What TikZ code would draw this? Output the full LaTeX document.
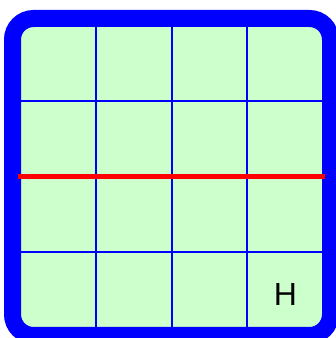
\documentclass[tikz,border=0pt]{standalone}
\usepackage{fontspec}
\setmainfont{Liberation Sans}
\definecolor{cellgreen}{RGB}{204,255,204}
\begin{document}
\begin{tikzpicture}[x=1pt, y=1pt,
	frame/.style={draw=blue, fill=cellgreen, line width=17pt,
				rounded corners=21pt},
	gridline/.style={draw=blue, line width=2pt},
	cut/.style={draw=red, line width=5pt},
	letter/.style={inner sep=0, font=\fontsize{32}{32}\selectfont}]
	\useasboundingbox (0,0) rectangle (336,338);
	\clip (0,0) rectangle (336,338);
	\path[frame] (12.5,2.5) rectangle (330.5,319.5);
	\draw[gridline] (96.25,11) -- (96.25,311);
	\draw[gridline] (171.5,11) -- (171.5,311);
	\draw[gridline] (246.75,11) -- (246.75,311);
	\draw[gridline] (21,237) -- (322,237);
	\draw[gridline] (21,86) -- (322,86);
	\draw[cut] (17.5,161) -- (325,161);
	\node[letter] (h) at (285.5,44) {H};

\end{tikzpicture}
\end{document}
